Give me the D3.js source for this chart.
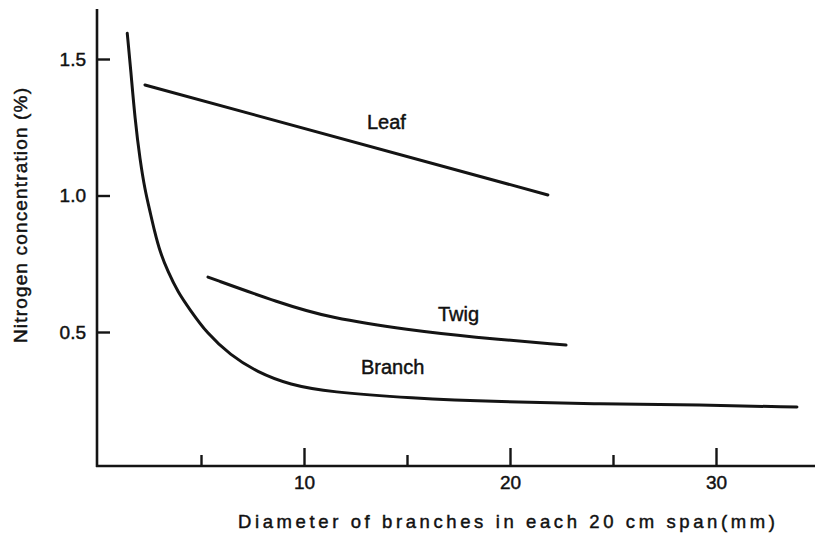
<!DOCTYPE html>
<html>
<head>
<meta charset="utf-8">
<script src="https://cdn.jsdelivr.net/npm/d3@7"></script>
<style>
  html, body { margin: 0; padding: 0; background: #fff; }
  svg { display: block; }
  text { font-family: "Liberation Sans", Arial, Helvetica, sans-serif; fill: #111; stroke: #111; stroke-width: 0.45px; }
</style>
</head>
<body>
<svg id="chart" width="818" height="538"></svg>
<script>
// ---- Data ----
const leafX   = [2.28, 21.84];
const leafY   = [1.405, 1.002];

const twigX   = [5.34, 8.83, 11.26, 15.15, 18.06, 22.72];
const twigY   = [0.701, 0.606, 0.551, 0.507, 0.482, 0.452];

const branchX = [1.42, 1.59, 1.80, 2.04, 2.28, 2.52, 2.74, 3.01, 3.40, 3.88, 4.47, 5.28, 6.41, 7.72, 9.32, 11.26, 15.15, 19.51, 24.37, 29.2, 33.93];
const branchY = [1.594, 1.460, 1.276, 1.130, 1.020, 0.943, 0.870, 0.793, 0.720, 0.646, 0.581, 0.496, 0.416, 0.353, 0.306, 0.280, 0.258, 0.244, 0.236, 0.233, 0.225];

const xMajorTicks = [10, 20, 30];
const xMinorTicks = [5, 15, 25];
const yTicks = [0.5, 1.0, 1.5];
const yTickLabels = ["0.5", "1.0", "1.5"];

const seriesLabels = [
  { name: "Leaf",   x: 14.0, y: 1.245 },
  { name: "Twig",   x: 17.5, y: 0.54 },
  { name: "Branch", x: 14.3, y: 0.345 }
];

const xTitle = "Diameter of branches in each 20 cm span(mm)";
const yTitle = "Nitrogen concentration (%)";

// ---- Scales ----
const svg = d3.select("#chart");
const x = d3.scaleLinear().domain([0, 30]).range([98, 716]);
const y = d3.scaleLinear().domain([0, 1.5]).range([468.5, 59]);
const axisY = 466;   // pixel row of the x axis line
const axisX = 97;    // pixel column of the y axis line
const ink = "#141414";

// ---- Axes ----
const gx = svg.append("g").attr("transform", `translate(0,${axisY})`);
gx.call(d3.axisBottom(x).tickValues(xMajorTicks).tickSizeInner(-18).tickSizeOuter(0).tickPadding(10).tickFormat(d3.format("d")));
const gxm = svg.append("g").attr("transform", `translate(0,${axisY})`);
gxm.call(d3.axisBottom(x).tickValues(xMinorTicks).tickSizeInner(-11).tickSizeOuter(0).tickFormat(""));
[gx, gxm].forEach(g => {
  g.select(".domain").remove();
  g.selectAll(".tick line").attr("stroke", ink).attr("stroke-width", 2.4);
  g.selectAll(".tick text").attr("font-size", 19).attr("fill", ink).style("font-family", "'Liberation Sans', Arial, sans-serif");
});

const gy = svg.append("g").attr("transform", `translate(${axisX},0)`);
gy.call(d3.axisLeft(y).tickValues(yTicks).tickSizeInner(-13).tickSizeOuter(0).tickPadding(11)
  .tickFormat((d, i) => yTickLabels[i]));
gy.select(".domain").remove();
gy.selectAll(".tick line").attr("stroke", ink).attr("stroke-width", 2.4);
gy.selectAll(".tick text").attr("font-size", 19).attr("fill", ink).style("font-family", "'Liberation Sans', Arial, sans-serif");

// axis lines
svg.append("line").attr("x1", axisX).attr("x2", axisX).attr("y1", 9).attr("y2", axisY + 1)
  .attr("stroke", ink).attr("stroke-width", 2.6);
svg.append("line").attr("x1", axisX - 1).attr("x2", 815).attr("y1", axisY).attr("y2", axisY)
  .attr("stroke", ink).attr("stroke-width", 2.6);

// ---- Curves ----
const line = d3.line().x(d => x(d[0])).y(d => y(d[1])).curve(d3.curveBasis);
const series = [
  d3.zip(leafX, leafY),
  d3.zip(twigX, twigY),
  d3.zip(branchX, branchY)
];
svg.selectAll("path.series").data(series).join("path")
  .attr("class", "series")
  .attr("d", line)
  .attr("fill", "none")
  .attr("stroke", ink)
  .attr("stroke-width", 3)
  .attr("stroke-linecap", "round")
  .attr("stroke-linejoin", "round");

// ---- Series labels ----
svg.selectAll("text.lbl").data(seriesLabels).join("text")
  .attr("class", "lbl")
  .attr("x", d => x(d.x))
  .attr("y", d => y(d.y))
  .attr("text-anchor", "middle")
  .attr("font-size", 20)
  .text(d => d.name);

// ---- Axis titles ----
svg.append("text")
  .attr("x", 238).attr("y", 528)
  .attr("font-size", 18.5)
  .attr("textLength", 537).attr("lengthAdjust", "spacing")
  .text(xTitle);

svg.append("text")
  .attr("transform", "translate(27,343) rotate(-90)")
  .attr("font-size", 19)
  .attr("textLength", 255).attr("lengthAdjust", "spacing")
  .text(yTitle);
</script>
</body>
</html>
